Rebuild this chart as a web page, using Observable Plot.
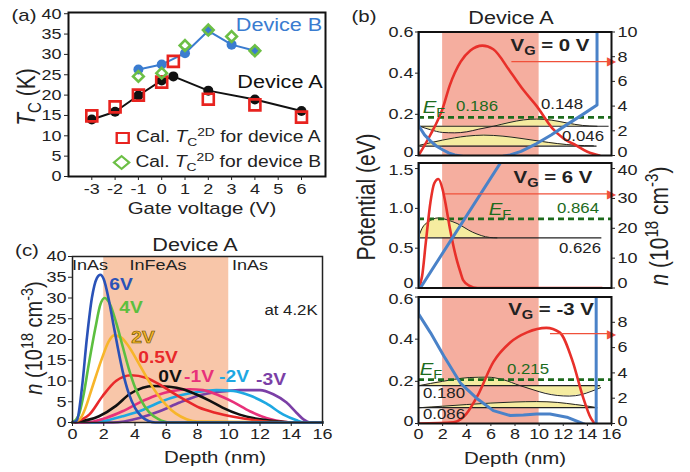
<!DOCTYPE html>
<html><head><meta charset="utf-8">
<script src="https://cdn.jsdelivr.net/npm/d3@7"></script>
<script src="https://cdn.jsdelivr.net/npm/@observablehq/plot@0.6"></script>
<style>
body{margin:0;background:#fff;}
#fig{position:relative;width:690px;height:472px;overflow:hidden;font-family:"Liberation Sans",Arial,sans-serif;color:#222;background:#fff;}
#fig svg{position:absolute;}
.t{position:absolute;white-space:nowrap;transform:translate(-50%,-50%) scaleX(1.2);line-height:1;}
.r{transform:translate(-50%,-50%) scaleX(1.2) rotate(-90deg);}
sub,sup{font-size:0.72em;line-height:0;}
</style></head><body><div id="fig"></div>
<script>
// ---------- Panel (a) data ----------
const gateA = [-3, -2, -1, 0, 0.5, 2, 4, 6];
const tcA   = [14, 15.9, 19.9, 23.6, 24.6, 21.1, 18.9, 16.1];
const calA  = [14.9, 17.1, 20, 23.2, 28.3, 19.0, 17.6, 14.6];
const gateB = [-1, 0, 1, 2, 3, 4];
const tcB   = [26.3, 27.5, 30.3, 35.8, 32.4, 30.9];
const calB  = [24.6, 25.4, 32.2, 36.0, 34.4, 30.9];
const gateTicks = [-3, -2, -1, 0, 1, 2, 3, 4, 5, 6];
const tcTicks = [0, 5, 10, 15, 20, 25, 30, 35, 40];

// ---------- Panel (c) data: n (1e18 cm^-3) vs depth (nm) ----------
const d6V = [0, 0.28, 0.6, 0.92, 1.24, 1.56, 1.78, 2.0, 2.3, 2.6, 2.9, 3.2, 3.6, 4.0, 4.4, 4.9, 5.3, 16];
const n6V = [0, 0.5, 8.2, 20.3, 30, 34.8, 35.6, 34.5, 30, 24, 18, 12.5, 7, 3.5, 1.5, 0.3, 0, 0];
const d4V = [0, 0.39, 0.7, 1.03, 1.46, 1.78, 2.06, 2.4, 2.8, 3.2, 3.6, 4.0, 4.4, 4.9, 5.5, 6.2, 16];
const n4V = [0, 1.7, 6.5, 13.8, 22.7, 28.4, 30, 28.5, 24, 18.5, 13, 8.5, 5.3, 2.5, 0.8, 0, 0];
const d2V = [0, 0.49, 0.81, 1.24, 1.88, 2.31, 2.65, 3.1, 3.6, 4.2, 4.8, 5.4, 6.0, 6.6, 7.3, 8.0, 16];
const n2V = [0, 0.9, 3.3, 8.2, 15.4, 19.5, 21, 20.5, 18.3, 14.5, 10.5, 7, 4.2, 2.2, 0.8, 0.2, 0];
const d05V = [0, 1.07, 1.93, 2.78, 3.75, 4.7, 5.57, 6.4, 7.3, 8.1, 9.2, 10.3, 11.6, 12.8, 16];
const n05V = [0, 1.9, 6.4, 10.0, 11.4, 10.8, 9.2, 7.2, 5.2, 3.6, 2.3, 1.4, 0.6, 0.1, 0];
const d0V = [0, 1.7, 2.78, 3.64, 4.5, 5.14, 6.2, 7.07, 7.9, 8.8, 9.6, 10.7, 11.8, 13.1, 14.1, 16];
const n0V = [0, 1.5, 4.0, 6.8, 8.4, 8.8, 8.6, 8.0, 6.8, 5.2, 3.6, 1.9, 0.9, 0.3, 0, 0];
const dm1V = [0, 0.8, 2.14, 3.2, 4.28, 5.35, 6.4, 7.5, 8.35, 9.2, 10.3, 11.35, 12.4, 13.5, 14.1, 16];
const nm1V = [0, 0, 1.1, 2.7, 4.8, 6.5, 7.6, 8.0, 7.8, 6.8, 4.9, 2.7, 1.1, 0.2, 0, 0];
const dm2V = [0, 1.3, 3.2, 4.28, 5.57, 6.85, 8.1, 9.2, 10.3, 11.35, 12.4, 13.5, 14.3, 14.8, 16];
const nm2V = [0, 0, 1.5, 2.7, 4.9, 6.5, 7.4, 7.8, 7.6, 6.5, 4.6, 1.9, 0.6, 0, 0];
const dm3V = [0, 2.6, 4.28, 5.57, 6.85, 8.1, 9.4, 10.7, 12.0, 12.85, 13.7, 14.35, 14.8, 15.2, 16];
const nm3V = [0, 0, 1.1, 2.7, 4.8, 6.5, 7.4, 7.8, 7.8, 6.8, 4.8, 2.3, 0.7, 0, 0];
const depthTicks = [0, 2, 4, 6, 8, 10, 12, 14, 16];
const nTicksC = [0, 5, 10, 15, 20, 25, 30, 35, 40];
const infeas = [{from: 2, to: 10}];

// ---------- Panel (b) data ----------
// VG = 0 V
const b1PotD = [0, 0, 0.5, 1, 1.5, 2, 2.5, 3, 4, 5, 6, 7, 7.6, 8.5, 9.8, 11, 12.3, 13.5, 14.8, 14.8];
const b1Pot  = [0.7, 0.146, 0.10, 0.07, 0.045, 0.028, 0.013, 0.003, -0.008, -0.012, -0.01, -0.004, 0.003, 0.02, 0.058, 0.10, 0.15, 0.195, 0.245, 0.7];
const b1nD = [0, 1, 2, 2.6, 3.5, 4.3, 5.3, 6.2, 7.6, 8.7, 9.8, 11.1, 12, 13.1, 14, 15];
const b1n  = [0, 1.7, 3.8, 5.7, 7.6, 8.5, 8.9, 8.6, 6.8, 5.3, 4.0, 2.2, 1.4, 0.8, 0.3, 0];
const b1Levels = [0.046, 0.142], b1LevFrom = [0.1, 0.1], b1LevTo = [14.8, 15.8];
const b1W1D = [0.1, 1, 2, 3, 4, 5.4, 7, 8.5, 10, 11.5, 13, 14.5];
const b1W1  = [0.05, 0.062, 0.075, 0.086, 0.094, 0.099, 0.094, 0.083, 0.07, 0.058, 0.05, 0.047];
const b1W2D = [0.1, 1, 2, 3, 4, 5, 6.2, 7.5, 8.7, 9.8, 11, 12.3, 13.6, 14.8];
const b1W2  = [0.142, 0.125, 0.112, 0.110, 0.115, 0.128, 0.142, 0.16, 0.173, 0.177, 0.172, 0.158, 0.146, 0.142];
const b1EF = 0.185;
const b1Arrow = [{x1: 7.7, n: 7.6, x2: 16.1}];
// VG = 6 V
const b2PotD = [0, 0, 0.15, 7.0];
const b2Pot  = [1.8, 0, 0, 1.62];
const b2nD = [0, 0.3, 0.6, 1.0, 1.3, 1.65, 2.0, 2.3, 2.6, 2.9, 3.2, 3.5, 3.7, 4.2, 4.9, 15.2];
const b2n  = [0, 4, 15, 29, 35, 36.5, 33, 27, 20, 14, 9, 5, 2.6, 0.8, 0, 0];
const b2Levels = [0.63], b2LevFrom = [0.1], b2LevTo = [15.2];
const b2W1D = [0.1, 0.3, 0.8, 1.65, 2.5, 3.2, 4.5, 5.9, 6.5];
const b2W1  = [0.68, 0.75, 0.83, 0.88, 0.85, 0.81, 0.70, 0.635, 0.63];
const b2EF = 0.868;
const b2Arrow = [{x1: 2.2, n: 31.5, x2: 16.1}];
// VG = -3 V
const b3PotD = [0, 0, 1, 2.1, 3.5, 4.9, 6.2, 7.6, 8.7, 9.8, 10.9, 12.3, 13.6, 14.6, 14.73, 14.73];
const b3Pot  = [0.7, 0.52, 0.43, 0.32, 0.19, 0.116, 0.061, 0.038, 0.04, 0.045, 0.045, 0.03, 0.0, -0.02, -0.02, 0.7];
const b3nD = [0, 2.9, 4.0, 4.9, 6.2, 7.6, 9.0, 10.6, 11.7, 12.8, 13.6, 14.3, 14.6];
const b3n  = [0, 0.1, 0.8, 2.2, 4.85, 6.4, 7.2, 7.56, 7.2, 4.85, 2.2, 0.4, 0];
const b3Levels = [0.075, 0.18], b3LevFrom = [0.1, 0.1], b3LevTo = [14.8, 15.1];
const b3W1D = [0.1, 2, 4, 6, 8, 9.8, 11.5, 13, 14.3, 14.8];
const b3W1  = [0.075, 0.082, 0.09, 0.097, 0.102, 0.104, 0.1, 0.09, 0.08, 0.075];
const b3W2D = [0.1, 1, 2, 3, 4.2, 5.7, 7, 8.4, 9.5, 10.5, 11.5, 12.5, 13.5, 14.3, 15.1];
const b3W2  = [0.18, 0.19, 0.2, 0.21, 0.218, 0.22, 0.208, 0.18, 0.16, 0.143, 0.133, 0.13, 0.137, 0.152, 0.17];
const b3EF = 0.208;
const b3Arrow = [{x1: 10.9, n: 7.1, x2: 16.1}];

// ---------- helpers ----------
const fig = document.getElementById("fig");
const FONT = "Liberation Sans, Arial, sans-serif";
const zip = (xs, ys) => xs.map((x, i) => ({x, y: ys[i]}));
function stretch(svg, nudge) {
  svg.querySelectorAll('g[aria-label$="tick label"] text').forEach(t => {
    const tr = t.getAttribute("transform");
    const isY = t.parentNode.getAttribute("aria-label").startsWith("y");
    const dy = nudge && isY ? (nudge[t.textContent] || 0) : 0;
    if (tr) t.setAttribute("transform", tr + ` translate(0,${dy}) scale(1.2,1)`);
  });
}
function place(svg, left, top, nudge) { stretch(svg, nudge); svg.style.left = left + "px"; svg.style.top = top + "px"; fig.appendChild(svg); }
function label(html, x, y, css = "", cls = "") {
  const d = document.createElement("div");
  d.className = "t " + cls;
  d.style.left = x + "px"; d.style.top = y + "px";
  d.style.cssText += css;
  d.innerHTML = html;
  fig.appendChild(d);
}
const baseStyle = {fontSize: "15px", fontFamily: FONT, background: "transparent", overflow: "visible", color: "#222"};

// ---------- Panel (a) ----------
{
  const A = gateA.map((g, i) => ({g, tc: tcA[i], cal: calA[i]}));
  const B = gateB.map((g, i) => ({g, tc: tcB[i], cal: calB[i]}));
  const svg = Plot.plot({
    width: 340, height: 225, marginLeft: 68, marginRight: 15, marginTop: 12, marginBottom: 49,
    style: baseStyle,
    x: {domain: [-4, 7.03]}, y: {domain: [0, 40.3]},
    marks: [
      Plot.line(B, {x: "g", y: "tc", stroke: "#3a7cd0", strokeWidth: 2}),
      Plot.dot(B, {x: "g", y: "tc", r: 5, fill: "#3a7cd0"}),
      Plot.line(A, {x: "g", y: "tc", stroke: "#111", strokeWidth: 2}),
      Plot.dot(A, {x: "g", y: "tc", r: 5, fill: "#111"}),
      Plot.dot(A, {x: "g", y: "cal", symbol: "square", r: 6.2, stroke: "#e8231f", strokeWidth: 2.6, fill: "none"}),
      Plot.dot(B, {x: "g", y: "cal", symbol: "diamond2", r: 4.8, stroke: "#6cbf45", strokeWidth: 2.6, fill: "none"}),
      Plot.frame({stroke: "#111", strokeWidth: 2}),
      Plot.axisX(gateTicks, {tickSize: 4, tickPadding: 3, tickFormat: d => String(d), label: null}),
      Plot.axisY(tcTicks, {tickSize: 4, tickPadding: 3, tickFormat: d => String(d), label: null})
    ]
  });
  place(svg, 0, 0);
  label("(a)", 24, 15, "font-size:17px");
  label("<i>T</i><sub>C</sub> (K)", 26, 97, "font-size:21px", "r");
  label("Gate voltage (V)", 202, 208, "font-size:17px");
  label("Device B", 279, 25, "font-size:18px;color:#3a7cd0");
  label("Device A", 280, 82, "font-size:18px;color:#111");
  label("<span style='display:inline-block;width:8px;height:8px;border:2.6px solid #e8231f;vertical-align:middle;margin-right:5px'></span>Cal. <i>T</i><sub>C</sub><sup>2D</sup> for device A", 218, 137, "font-size:16px");
  label("<span style='display:inline-block;width:7px;height:7px;border:2.6px solid #6cbf45;transform:rotate(45deg);vertical-align:middle;margin-right:6px'></span>Cal. <i>T</i><sub>C</sub><sup>2D</sup> for device B", 218, 162, "font-size:16px");
}

// ---------- Panel (c) ----------
{
  const series = [
    [dm3V, nm3V, "#7b3fa6"], [dm2V, nm2V, "#1ea8e2"], [dm1V, nm1V, "#e8317a"], [d0V, n0V, "#111"],
    [d05V, n05V, "#e8282a"], [d2V, n2V, "#f7b52a"], [d4V, n4V, "#5cbf3f"], [d6V, n6V, "#2a52b8"]
  ];
  const svg = Plot.plot({
    width: 340, height: 237, marginLeft: 72, marginRight: 18, marginTop: 21, marginBottom: 50,
    style: baseStyle,
    x: {domain: [0, 16]}, y: {domain: [0, 40]},
    marks: [
      Plot.rect(infeas, {x1: "from", x2: "to", y1: 0, y2: 40, fill: "#f8c6a9"}),
      ...series.map(([d, n, c]) => Plot.line(zip(d, n), {x: "x", y: "y", stroke: c, strokeWidth: 2.6, curve: "monotone-x"})),
      Plot.frame({stroke: "#222", strokeWidth: 1.5}),
      Plot.axisX(depthTicks, {tickSize: 4, tickPadding: 2, label: null}),
      Plot.axisY(nTicksC, {tickSize: 4, tickPadding: 2, label: null})
    ]
  });
  place(svg, 0, 235);
  label("(c)", 27, 250, "font-size:17px");
  label("Device A", 195, 245, "font-size:18px");
  label("<i>n</i> (10<sup>18</sup> cm<sup>-3</sup>)", 34, 338, "font-size:20px", "r");
  label("Depth (nm)", 215, 457, "font-size:17px");
  label("InAs", 90, 264, "font-size:15px");
  label("InFeAs", 158, 264, "font-size:15px");
  label("InAs", 250, 264, "font-size:15px");
  label("at 4.2K", 291, 310, "font-size:14px");
  const lb = "font-size:16px;font-weight:bold;";
  label("6V", 121, 285, lb + "color:#2a52b8");
  label("4V", 131, 308, lb + "color:#5cbf3f");
  label("2V", 143, 338, lb + "color:#f7b52a;-webkit-text-stroke:0.6px #6b5200");
  label("0.5V", 158, 358, lb + "color:#e8282a");
  label("0V", 170, 377, lb + "color:#111");
  label("-1V", 199, 377, lb + "color:#e8317a");
  label("-2V", 234, 377, lb + "color:#1ea8e2");
  label("-3V", 271, 380, lb + "color:#7b3fa6");
}

// ---------- Panel (b) ----------
function panelB(o) {
  const k = o.k;
  const fmtL = d => d === 0 ? "0" : d.toFixed(1);
  const marks = [
    Plot.rect(infeas, {x1: "from", x2: "to", y1: 0, y2: o.yMax, fill: "#f5ae9f"}),
  ];
  o.waves.forEach(([wd, we, lev]) => {
    const rows = wd.map((x, i) => ({x, y: we[i], lev}));
    marks.push(Plot.areaY(rows, {x: "x", y1: "lev", y2: "y", fill: "#f5eca0", curve: "monotone-x"}));
    marks.push(Plot.line(rows, {x: "x", y: "y", stroke: "#222", strokeWidth: 1, curve: "monotone-x"}));
  });
  const lev = o.levels.map((y, i) => ({y, a: o.levFrom[i], b: o.levTo[i]}));
  marks.push(Plot.ruleY(lev, {y: "y", x1: "a", x2: "b", stroke: "#222", strokeWidth: 1.2}));
  marks.push(Plot.ruleY([o.ef], {stroke: "#1d6b1d", strokeWidth: 2.6, strokeDasharray: "6,4"}));
  marks.push(Plot.line(zip(o.nD, o.n), {x: "x", y: d => d.y * k, stroke: "#e8302a", strokeWidth: 2.6, curve: "monotone-x", clip: true}));
  marks.push(Plot.line(zip(o.potD, o.pot), {x: "x", y: "y", stroke: "#4a82c8", strokeWidth: 3, clip: true}));
  marks.push(Plot.link(o.arrow, {x1: "x1", x2: "x2", y1: d => d.n * k, y2: d => d.n * k, stroke: "#f0503a", strokeWidth: 1.2}));
  marks.push(Plot.text(o.arrow, {x: "x2", y: d => d.n * k, text: () => "\u25B6", fill: "#f0503a", fontSize: 12, textAnchor: "end", dx: 3}));
  marks.push(Plot.frame({stroke: "#111", strokeWidth: 2}));
  marks.push(Plot.axisY(o.leftTicks, {tickSize: 3, tickPadding: 2, tickFormat: fmtL, label: null}));
  marks.push(Plot.axisY(o.rightTicks.map(v => v * k), {anchor: "right", tickSize: 3, tickPadding: 3, tickFormat: d => String(Math.round(d / k)), label: null}));
  if (o.xAxis) marks.push(Plot.axisX(depthTicks, {tickSize: 3, tickPadding: 2, label: null}));
  const svg = Plot.plot({
    width: 340, height: o.height, marginLeft: 68, marginRight: 79, marginTop: o.mt, marginBottom: o.mb,
    style: baseStyle, x: {domain: [0, 16], axis: o.xAxis ? undefined : null}, y: {domain: [0, o.yMax]}, marks
  });
  place(svg, 350, o.top, o.nudge);
}
panelB({top: 20, height: 145, mt: 11.5, mb: 10, yMax: 0.6, k: 0.06,
  leftTicks: [0, 0.2, 0.4, 0.6], rightTicks: [0, 2, 4, 6, 8, 10], nudge: {"0": -3.5},
  potD: b1PotD, pot: b1Pot, nD: b1nD, n: b1n, levels: b1Levels, levFrom: b1LevFrom, levTo: b1LevTo,
  waves: [[b1W1D, b1W1, b1Levels[0]], [b1W2D, b1W2, b1Levels[1]]], ef: b1EF, arrow: b1Arrow});
panelB({top: 152, height: 140, mt: 10.5, mb: 4.5, yMax: 1.57, k: 0.0375,
  leftTicks: [0, 0.5, 1.0, 1.5], rightTicks: [0, 10, 20, 30, 40], nudge: {"0": -4.5, "1.5": 1.5, "40": 1.5},
  potD: b2PotD, pot: b2Pot, nD: b2nD, n: b2n, levels: b2Levels, levFrom: b2LevFrom, levTo: b2LevTo,
  waves: [[b2W1D, b2W1, b2Levels[0]]], ef: b2EF, arrow: b2Arrow});
panelB({top: 286, height: 186, mt: 10.5, mb: 49, yMax: 0.6, k: 0.06,
  leftTicks: [0, 0.2, 0.4, 0.6], rightTicks: [0, 2, 4, 6, 8], nudge: {"0.6": 2.5, "0": -2},
  potD: b3PotD, pot: b3Pot, nD: b3nD, n: b3n, levels: b3Levels, levFrom: b3LevFrom, levTo: b3LevTo,
  waves: [[b3W1D, b3W1, b3Levels[0]], [b3W2D, b3W2, b3Levels[1]]], ef: b3EF, arrow: b3Arrow, xAxis: true});

label("(b)", 364, 16, "font-size:17px");
label("Device A", 511, 18, "font-size:18px");
label("Potential (eV)", 366, 197, "font-size:21px", "r");
label("<i>n</i> (10<sup>18</sup> cm<sup>-3</sup>)", 659, 226, "font-size:21px", "r");
label("Depth (nm)", 515, 458, "font-size:17px");
const vg = "font-size:17px;font-weight:bold;color:#222;";
label("V<sub>G</sub> = 0 V", 550, 45, vg);
label("V<sub>G</sub> = 6 V", 553, 177, vg);
label("V<sub>G</sub> = -3 V", 551, 309, vg);
const efc = "font-size:17px;color:#1d6b1d;";
label("<i>E</i><sub>F</sub>", 434, 107, efc);
label("<i>E</i><sub>F</sub>", 500, 209, efc);
label("<i>E</i><sub>F</sub>", 431, 369, efc);
const num = "font-size:14px;";
label("0.186", 477, 106, num + "color:#1d6b1d");
label("0.148", 562, 104, num);
label("0.046", 583, 136, num);
label("0.864", 578, 208, num + "color:#1d6b1d");
label("0.626", 580, 248, num);
label("0.215", 528, 369, num + "color:#1d6b1d");
label("0.180", 444, 393, num);
label("0.086", 444, 414, num);
</script></body></html>
